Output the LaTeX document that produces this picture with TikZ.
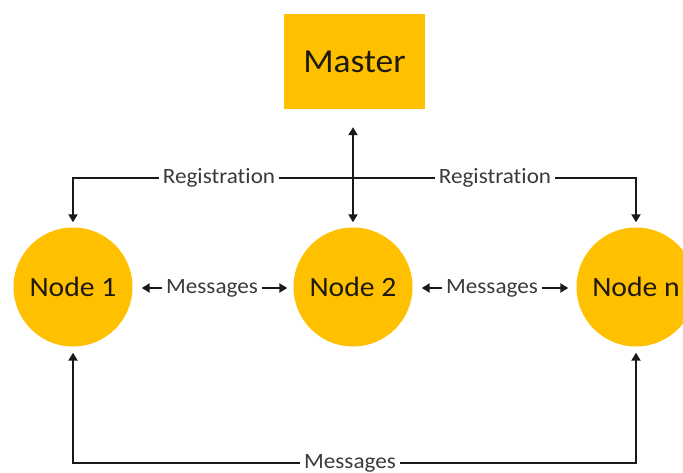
\documentclass[tikz,border=0pt]{standalone}
\usepackage{fontspec}
\setmainfont{Carlito}[FakeStretch=1.06, RawFeature=-liga]
\usetikzlibrary{arrows.meta}
\definecolor{gold}{HTML}{FFC000}
\definecolor{ink}{HTML}{1F1A10}
\definecolor{lbl}{HTML}{3A3A3A}
\tikzset{
  box/.style={fill=gold, draw=none, minimum width=141pt, minimum height=95pt, inner sep=0pt,
    text=ink, font=\fontsize{33.5}{40}\selectfont},
  peer/.style={circle, fill=gold, draw=none, minimum size=119pt, inner sep=0pt,
    text=ink, font=\fontsize{28}{34}\selectfont},
  tag/.style={text=lbl, inner xsep=4pt, inner ysep=0pt, text height=11pt, text depth=0pt,
    font=\fontsize{21.8}{26}\selectfont},
  wire/.style={draw=black!90, line width=2.4pt},
  tip/.style={},
  arr/.style={wire, -{Triangle[length=8pt,width=9pt]}},
  twoway/.style={wire, {Triangle[length=8pt,width=9pt]}-{Triangle[length=8pt,width=9pt]}}
}
\begin{document}
\begin{tikzpicture}[x=1pt, y=-1pt]
  \useasboundingbox (0,0) rectangle (683,472);
  \clip (0,0) rectangle (683,472);

  % master and peer nodes
  \node[box]  (master) at (354.5,61.5) {Master};
  \node[peer] (n1) at (73,287) {Node 1};
  \node[peer] (n2) at (353,287) {Node 2};
  \node[peer] (nn) at (636,287) {Node n};

  % labels on the connectors
  \node[tag] (reg1) at (219,178) {Registration};
  \node[tag] (reg2) at (495,178) {Registration};
  \node[tag] (msg1) at (212,288) {Messages};
  \node[tag] (msg2) at (492,288) {Messages};
  \node[tag] (msg3) at (350,463) {Messages};

  % master <-> node 2
  \draw[twoway, shorten <=18pt, shorten >=5pt] (master.south -| n2.north) -- (n2.north);

  % registration bus
  \draw[arr, shorten >=5pt] (reg1.west) -| (n1.north);
  \draw[wire] (reg1.east) -- (reg2.west);
  \draw[arr, shorten >=5pt] (reg2.east) -| (nn.north);

  % messages between neighbours
  \draw[arr, shorten >=9pt] (msg1.west) -- (n1.east |- msg1.west);
  \draw[arr, shorten >=6pt] (msg1.east) -- (n2.west |- msg1.east);
  \draw[arr, shorten >=9pt] (msg2.west) -- (n2.east |- msg2.west);
  \draw[arr, shorten >=8pt] (msg2.east) -- (nn.west |- msg2.east);

  % messages between node 1 and node n
  \draw[arr, shorten >=6pt] (msg3.west) -| (n1.south);
  \draw[arr, shorten >=6pt] (msg3.east) -| (nn.south);
\end{tikzpicture}
\end{document}
